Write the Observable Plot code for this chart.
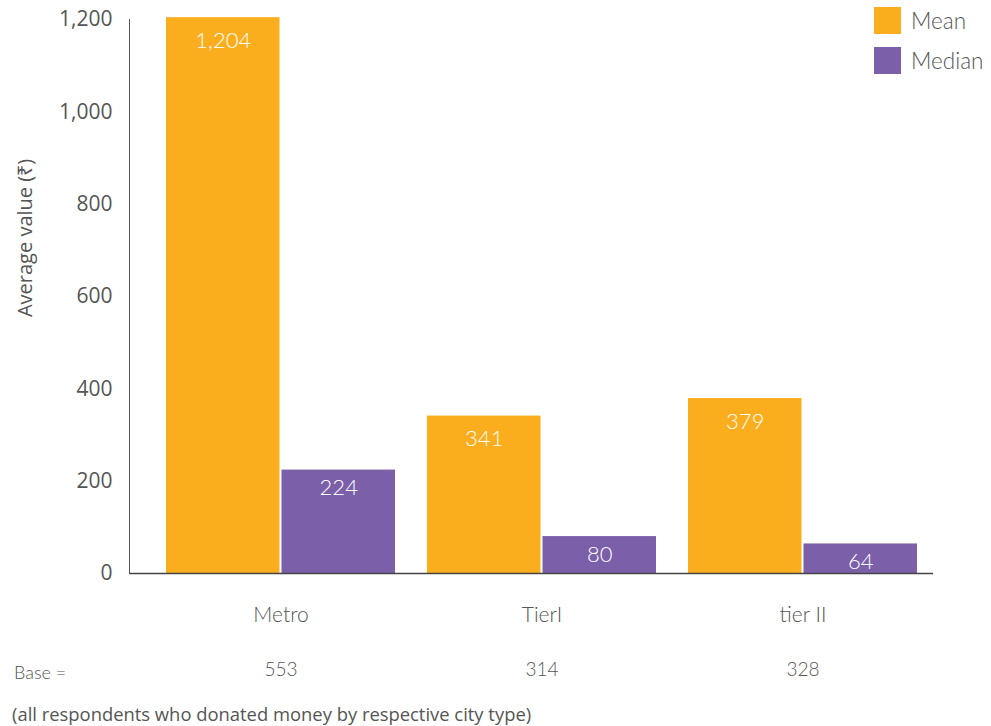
<!DOCTYPE html>
<html>
<head>
<meta charset="utf-8">
<script src="https://cdn.jsdelivr.net/npm/d3@7"></script>
<script src="https://cdn.jsdelivr.net/npm/@observablehq/plot@0.6"></script>
<style>
  html, body { margin: 0; padding: 0; background: #fff; }
  #wrap { position: relative; width: 991px; height: 726px; font-family: Lato, "Open Sans", sans-serif; color: #555; }
  #chart { position: absolute; left: 0; top: 0; }
  #chart svg g[aria-label^="y-axis"] text { font-family: "Open Sans", sans-serif; font-weight: 400; fill: #555; }
  .legend { position: absolute; left: 874px; display: flex; align-items: center; font-size: 22.5px; font-weight: 300; color: #555; }
  .legend .sw { width: 27px; height: 27px; margin-right: 10px; }
  #ytitle { position: absolute; left: 24px; top: 238px; transform: translate(-50%, -50%) rotate(-90deg); white-space: nowrap; font-size: 20px; font-weight: 400; font-family: "Open Sans", sans-serif; color: #555; }
  #baselabel { position: absolute; left: 14px; top: 661px; font-size: 18px; font-weight: 300; }
  #caption { position: absolute; left: 12px; top: 701px; font-size: 18.4px; font-family: "Open Sans", sans-serif; font-weight: 400; white-space: nowrap; }
</style>
</head>
<body>
<div id="wrap">
  <div id="chart"></div>
  <div class="legend" style="top:7px"><div class="sw" style="background:#fbae1d"></div>Mean</div>
  <div class="legend" style="top:47px"><div class="sw" style="background:#7b5fa8"></div>Median</div>
  <div id="ytitle">Average value (₹)</div>
  <div id="baselabel">Base =</div>
  <div id="caption">(all respondents who donated money by respective city type)</div>
</div>
<script>
const cities = ["Metro", "TierI", "tier II"];
const meanValues = [1204, 341, 379];
const medianValues = [224, 80, 64];
const baseCounts = [553, 314, 328];
const yTicks = [0, 200, 400, 600, 800, 1000, 1200];
const seriesNames = ["Mean", "Median"];
const seriesColors = ["#fbae1d", "#7b5fa8"];

const meanRows = cities.map((c, i) => ({city: c, series: "Mean", value: meanValues[i]}));
const medianRows = cities.map((c, i) => ({city: c, series: "Median", value: medianValues[i]}));
const baseRows = cities.map((c, i) => ({city: c, base: baseCounts[i]}));

const W = 991, H = 700, ML = 129, MR = 58, MT = 19, MB = 127;
const PI = 0.1226, PO = 0.1015, AL = 0.70;
const bw = d3.scaleBand().domain(cities).range([ML, W - MR]).paddingInner(PI).paddingOuter(PO).align(AL).bandwidth();
const half = bw / 2;
const off = (half + 1) / 2;
const fmt = d3.format(",");

const chart = Plot.plot({
  width: W,
  height: H,
  marginLeft: ML,
  marginRight: MR,
  marginTop: MT,
  marginBottom: MB,
  style: {fontFamily: "Lato, sans-serif", fontSize: "21px", fontWeight: 300, color: "#555", background: "#fff"},
  x: {domain: cities, paddingInner: PI, paddingOuter: PO, align: AL, tickSize: 0, tickPadding: 34, label: null},
  y: {domain: [0, 1200], ticks: yTicks, tickFormat: fmt, tickSize: 0, tickPadding: 17, line: true, label: null},
  color: {domain: seriesNames, range: seriesColors},
  marks: [
    Plot.barY(meanRows, {x: "city", y: "value", fill: "series", insetRight: half + 1}),
    Plot.barY(medianRows, {x: "city", y: "value", fill: "series", insetLeft: half + 1}),
    Plot.ruleY([0], {stroke: "#444", strokeWidth: 1.5}),
    Plot.text(meanRows, {x: "city", y: "value", text: d => fmt(d.value), dx: -off, dy: 23, fill: "white", fontSize: 22}),
    Plot.text(medianRows, {x: "city", y: "value", text: d => fmt(d.value), dx: off, dy: 18, fill: "white", fontSize: 22}),
    Plot.text(baseRows, {x: "city", text: d => String(d.base), frameAnchor: "bottom", dy: 102, fill: "#555", fontSize: 19})
  ]
});
document.getElementById("chart").appendChild(chart);
</script>
</body>
</html>
